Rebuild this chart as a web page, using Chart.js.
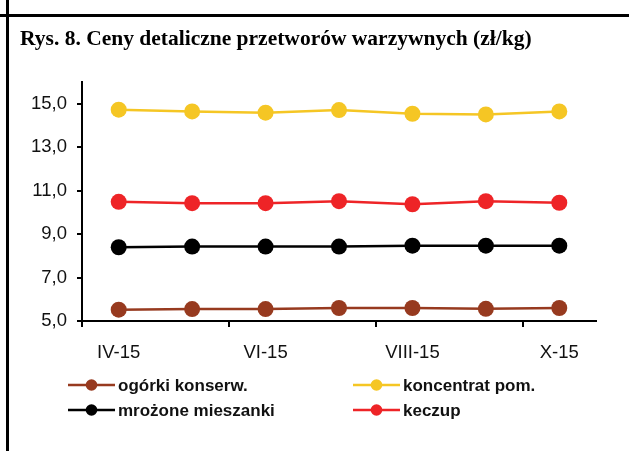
<!DOCTYPE html>
<html><head><meta charset="utf-8">
<script src="https://cdn.jsdelivr.net/npm/chart.js@4"></script>
<style>
html,body{margin:0;padding:0;background:#fff;}
#wrap{position:relative;width:629px;height:451px;overflow:hidden;background:#fff;}
#c{position:absolute;left:0;top:0;}
.vline{position:absolute;left:6px;top:0;width:3px;height:451px;background:#000;}
.hline{position:absolute;left:0;top:14px;width:629px;height:3px;background:#000;}
</style></head><body>
<div id="wrap"><canvas id="c" width="629" height="451"></canvas><div class="vline"></div><div class="hline"></div></div>
<script>
const categories = ['IV-15','V-15','VI-15','VII-15','VIII-15','IX-15','X-15'];
const seriesNames = ['ogórki konserw.','koncentrat pom.','mrożone mieszanki','keczup'];
const ogorki = [5.52,5.55,5.55,5.60,5.60,5.56,5.60];
const koncentrat = [14.74,14.66,14.60,14.72,14.55,14.52,14.66];
const mrozone = [8.40,8.43,8.43,8.43,8.47,8.47,8.47];
const keczup = [10.49,10.43,10.43,10.52,10.38,10.52,10.45];
const yTicks = [5,7,9,11,13,15];
const titleText = 'Rys. 8. Ceny detaliczne przetworów warzywnych (zł/kg)';

const colors = ['#973A1F','#F5C624','#000000','#EE2427'];
const seriesData = [ogorki, koncentrat, mrozone, keczup];

const legendPlugin = {
  id: 'excelLegend',
  afterDraw(chart) {
    const ctx = chart.ctx;
    const cols = [68, 353];
    const rows = [385, 410];
    chart.data.datasets.forEach((ds, i) => {
      const x = cols[i % 2], y = rows[Math.floor(i / 2)];
      ctx.save();
      ctx.strokeStyle = ds.borderColor; ctx.lineWidth = 2.5;
      ctx.beginPath(); ctx.moveTo(x, y); ctx.lineTo(x + 47, y); ctx.stroke();
      ctx.fillStyle = ds.pointBackgroundColor;
      ctx.beginPath(); ctx.arc(x + 23.5, y, 5.8, 0, Math.PI * 2); ctx.fill();
      ctx.fillStyle = '#111';
      ctx.font = 'bold 17px "Liberation Sans", Arial, sans-serif';
      ctx.textBaseline = 'middle';
      ctx.fillText(ds.label, x + 50, y + 1);
      ctx.restore();
    });
  }
};

new Chart(document.getElementById('c'), {
  type: 'line',
  data: {
    labels: categories,
    datasets: seriesData.map((d, i) => ({
      label: seriesNames[i],
      data: d,
      borderColor: colors[i],
      backgroundColor: colors[i],
      pointBackgroundColor: colors[i],
      pointBorderWidth: 0,
      pointRadius: 8,
      borderWidth: 2.5,
      tension: 0,
      fill: false
    }))
  },
  options: {
    responsive: false,
    devicePixelRatio: 1,
    animation: false,
    layout: { padding: { left: 20, right: 33, top: 0, bottom: 0 } },
    plugins: {
      legend: { display: false },
      tooltip: { enabled: false },
      title: {
        display: true,
        text: titleText,
        align: 'start',
        color: '#000',
        font: { family: '"Liberation Serif", "Times New Roman", serif', size: 21.5, weight: 'bold' },
        padding: { top: 27, bottom: 29.5 }
      }
    },
    scales: {
      x: {
        offset: true,
        grid: {
          offset: true,
          drawOnChartArea: false,
          drawTicks: true,
          tickLength: 6,
          lineWidth: 2,
          color: (c) => (c.index % 2 === 0 && c.index < categories.length) ? '#000' : 'rgba(0,0,0,0)'
        },
        border: { display: true, color: '#000', width: 2 },
        ticks: {
          autoSkip: false,
          maxRotation: 0,
          padding: 15,
          color: '#111',
          font: { family: '"Liberation Sans", Arial, sans-serif', size: 18.5 },
          callback: function(v, i) { return i % 2 === 0 ? this.getLabelForValue(v) : ''; }
        },
        afterFit: (s) => { s.height = 451 - 321; }
      },
      y: {
        min: 5, max: 16,
        afterBuildTicks: (s) => { s.ticks = yTicks.map(v => ({ value: v })); },
        grid: { drawOnChartArea: false, drawTicks: true, tickLength: 5, lineWidth: 2, color: '#000' },
        border: { display: true, color: '#000', width: 2 },
        ticks: {
          padding: 10,
          color: '#111',
          font: { family: '"Liberation Sans", Arial, sans-serif', size: 18.5 },
          callback: (v) => v.toFixed(1).replace('.', ',')
        },
        afterFit: (s) => { s.width = 62; }
      }
    }
  },
  plugins: [legendPlugin]
});
</script>
</body></html>
